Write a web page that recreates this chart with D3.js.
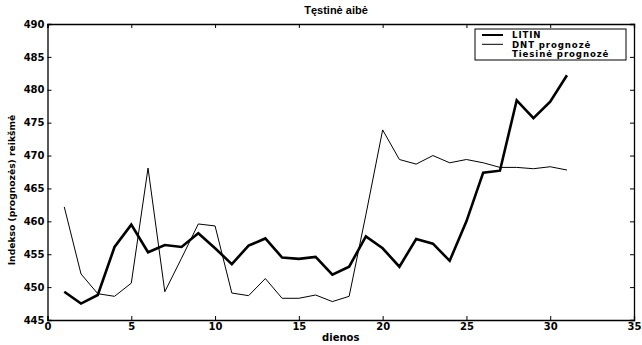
<!DOCTYPE html>
<html>
<head>
<meta charset="utf-8">
<script src="https://cdn.jsdelivr.net/npm/d3@7"></script>
<style>
  body { margin: 0; background: #fff; }
  svg text { font-family: "DejaVu Sans", "Liberation Sans", sans-serif; font-weight: bold; fill: #000; }
</style>
</head>
<body>
<div id="chart"></div>
<script>
// data
var days = d3.range(1, 32);
var litin = [449.3, 447.5, 448.8, 456.1, 459.5, 455.3, 456.4, 456.1, 458.2, 455.9,
             453.5, 456.3, 457.4, 454.5, 454.3, 454.6, 451.9, 453.1, 457.7, 455.9,
             453.1, 457.3, 456.6, 454.0, 460.0, 467.4, 467.7, 478.4, 475.7, 478.2, 482.2];
var dnt = [462.2, 452.0, 449.0, 448.6, 450.6, 468.1, 449.3, 454.4, 459.6, 459.3,
           449.1, 448.7, 451.3, 448.3, 448.3, 448.8, 447.8, 448.6, 461.0, 473.9,
           469.4, 468.7, 470.0, 468.9, 469.4, 468.9, 468.2, 468.2, 468.0, 468.3, 467.8];
var xTicks = [0, 5, 10, 15, 20, 25, 30, 35];
var yTicks = [445, 450, 455, 460, 465, 470, 475, 480, 485, 490];
var legendNames = ["LITIN", "DNT prognozė", "Tiesinė prognozė"];

var svgWidth = 642, svgHeight = 345;
var margin = { top: 24, right: 8, bottom: 25, left: 47.5 };
var chartWidth = svgWidth - margin.left - margin.right;
var chartHeight = svgHeight - margin.top - margin.bottom;

var svg = d3.select("#chart").append("svg")
    .attr("width", svgWidth)
    .attr("height", svgHeight);

var chartGroup = svg.append("g")
    .attr("transform", `translate(${margin.left}, ${margin.top})`);

var x = d3.scaleLinear().domain([0, 35]).range([0, chartWidth]);
var y = d3.scaleLinear().domain([445, 490]).range([chartHeight, 0]);

// axes with inward ticks, matlab style
var bottomAxis = d3.axisBottom(x).tickValues(xTicks).tickSize(-4).tickPadding(3);
var leftAxis = d3.axisLeft(y).tickValues(yTicks).tickSize(-4).tickPadding(3);
var topAxis = d3.axisTop(x).tickValues(xTicks).tickSize(-4).tickFormat("");
var rightAxis = d3.axisRight(y).tickValues(yTicks).tickSize(-4).tickFormat("");

chartGroup.append("g").attr("transform", `translate(0, ${chartHeight})`).call(bottomAxis);
chartGroup.append("g").call(leftAxis);
chartGroup.append("g").call(topAxis);
chartGroup.append("g").attr("transform", `translate(${chartWidth}, 0)`).call(rightAxis);

chartGroup.selectAll(".domain").attr("stroke", "#000").attr("stroke-width", 1.3);
chartGroup.selectAll(".tick line").attr("stroke", "#000");
chartGroup.selectAll(".tick text").style("font-size", "10px");

// lines
var line = d3.line()
    .x((d, i) => x(days[i]))
    .y(d => y(d));

chartGroup.append("path")
    .datum(dnt)
    .attr("d", line)
    .attr("fill", "none")
    .attr("stroke", "#000")
    .attr("stroke-width", 1);

chartGroup.append("path")
    .datum(litin)
    .attr("d", line)
    .attr("fill", "none")
    .attr("stroke", "#000")
    .attr("stroke-width", 2.6);

// legend
var legend = svg.append("g").attr("transform", "translate(475, 29)");
legend.append("rect")
    .attr("width", 151).attr("height", 31)
    .attr("fill", "#fff").attr("stroke", "#000").attr("stroke-width", 1);

legendNames.forEach(function(name, i) {
  var row = legend.append("g").attr("transform", `translate(0, ${6 + i * 9.3})`);
  if (i < 2) {
    row.append("line")
      .attr("x1", 7).attr("x2", 28)
      .attr("stroke", "#000")
      .attr("stroke-width", i == 0 ? 2 : 1);
  }
  row.append("text")
    .attr("x", 37).attr("y", 3.3)
    .style("font-size", "8.6px")
    .style("letter-spacing", "0.9px")
    .text(name);
});

// titles
svg.append("text")
  .attr("x", 336).attr("y", 14)
  .attr("text-anchor", "middle")
  .style("font-family", "'Liberation Sans Narrow', 'Arial Narrow', sans-serif")
  .style("font-size", "11px")
  .text("Tęstinė aibė");

svg.append("text")
  .attr("x", margin.left + chartWidth / 2).attr("y", 341)
  .attr("text-anchor", "middle")
  .style("font-size", "10px")
  .text("dienos");

svg.append("text")
  .attr("transform", "translate(15, 190) rotate(-90)")
  .attr("text-anchor", "middle")
  .style("font-size", "9.2px")
  .text("Indekso (prognozės) reikšmė");
</script>
</body>
</html>
